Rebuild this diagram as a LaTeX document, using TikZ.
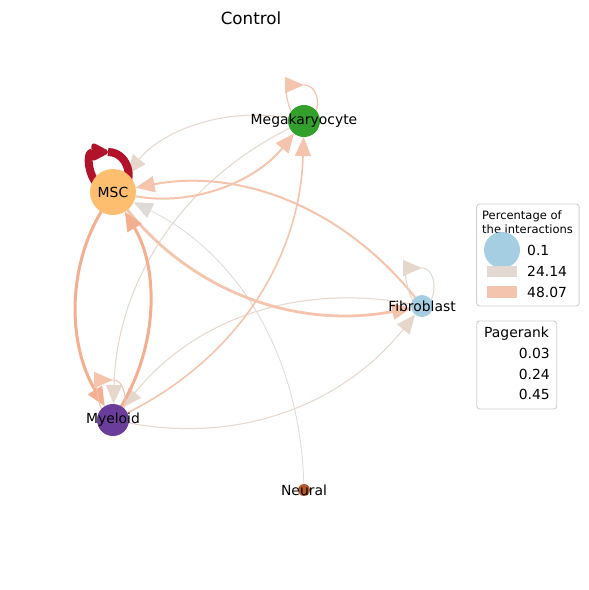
\documentclass[tikz,border=0pt]{standalone}
\usepackage{fontspec}
\setmainfont{DejaVu Sans}
\usetikzlibrary{arrows.meta,calc}
\pgfdeclarelayer{bglayer}
\pgfdeclarelayer{edgelayer}
\pgfsetlayers{bglayer,edgelayer,main}
\definecolor{cmsc}{HTML}{FDBF6F}
\definecolor{cmega}{HTML}{33A02C}
\definecolor{cfib}{HTML}{A6CEE3}
\definecolor{cmye}{HTML}{6A3D9A}
\definecolor{cneu}{HTML}{B15928}
\definecolor{edred}{HTML}{B2132B}
\definecolor{edsal}{HTML}{F4AF90}
\definecolor{edlsal}{HTML}{F5C4AD}
\definecolor{edbeige}{HTML}{E6D7CD}
\definecolor{edgrey}{HTML}{DEDAD8}
\definecolor{legbeige}{HTML}{E3D9D2}
\definecolor{legsal}{HTML}{F4C4AE}
\definecolor{legframe}{HTML}{D0D0D0}
\newcommand\arcedge[3]{%
  \coordinate (tmpm) at ($(#1)!0.5!(#2)$);
  \coordinate (tmpc) at ($(tmpm)!0.6!-90:(#2)$);
  \draw[edge,#3] (#1) .. controls ($(#1)!0.6667!(tmpc)$) and ($(#2)!0.6667!(tmpc)$) .. (#2);
}
% #1 node, #2 x offset of apex, #3 height, #4 half width, #5 style
\newcommand\selfloop[5]{%
  \coordinate (#1top) at ($(#1)+(#2,-#3)$);
  \draw[edge,#5] (#1top) .. controls ($(#1top)+(#4,0)$) and ($(#1)+(#4,0)$) .. (#1.center)
     .. controls ($(#1)+(-#4,0)$) and ($(#1top)+(-#4,0)$) .. (#1top);
}
\begin{document}
\begin{tikzpicture}[x=1pt,y=-1pt,
  nd/.style={circle,inner sep=0pt,outer sep=0pt,draw=none},
  lbl/.style={font=\fontsize{13.9}{16}\selectfont,text=black,inner sep=0pt},
  edge/.style={-{Triangle[length=19pt,width=16pt]}},
  legtxt/.style={font=\fontsize{13.9}{16}\selectfont,inner sep=0pt},
  legttl/.style={font=\fontsize{11.5}{13}\selectfont,inner sep=0pt,anchor=base west},
  legbox/.style={draw=legframe,line width=0.9pt,rounded corners=3pt,fill=white}]
\useasboundingbox (0,0) rectangle (589,590);
\begin{pgfonlayer}{bglayer}
\fill[white] (0,0) rectangle (589,590);
\end{pgfonlayer}

\node[font=\fontsize{16.7}{19}\selectfont,inner sep=0pt] (title) at (251,18) {Control};

% nodes
\node[nd,fill=cmsc,minimum size=46pt,label={[lbl]center:MSC}] (msc) at (113,192) {};
\node[nd,fill=cmega,minimum size=32pt,label={[lbl]center:Megakaryocyte}] (mega) at (304,121) {};
\node[nd,fill=cfib,minimum size=22pt,label={[lbl]center:Fibroblast}] (fib) at (422,306) {};
\node[nd,fill=cmye,minimum size=32pt,label={[lbl]center:Myeloid}] (mye) at (113,420) {};
\node[nd,fill=cneu,minimum size=12pt,label={[lbl]center:Neural}] (neu) at (304,490) {};

\begin{pgfonlayer}{edgelayer}
\arcedge{neu}{msc}{draw=edgrey,line width=0.8pt}
\arcedge{mega}{msc}{draw=edbeige,line width=1pt}
\arcedge{mega}{mye}{draw=edbeige,line width=1pt}
\arcedge{fib}{mye}{draw=edbeige,line width=1pt}
\arcedge{mye}{fib}{draw=edbeige,line width=1pt}
\arcedge{mye}{mega}{draw=edlsal,line width=1.6pt}
\arcedge{msc}{mega}{draw=edlsal,line width=2pt}
\arcedge{fib}{msc}{draw=edlsal,line width=2pt}
\arcedge{msc}{fib}{draw=edlsal,line width=2.8pt}
\arcedge{mye}{msc}{draw=edsal,line width=3pt}
\arcedge{msc}{mye}{draw=edsal,line width=3pt}
\selfloop{mega}{0}{36}{18}{draw=edlsal,line width=1.2pt}
\selfloop{fib}{0}{38}{16}{draw=edbeige,line width=1pt}
\selfloop{mye}{0}{40}{16}{draw=edlsal,line width=1pt}
\selfloop{msc}{-5}{40}{24}{draw=edred,line width=8pt,line join=round,-{Triangle[length=20pt,width=19pt,round]}}
\end{pgfonlayer}

% legend 1
\node[legbox,minimum width=102.5pt,minimum height=102pt,inner sep=0pt] (leg1) at (527.9,255) {};
\node[legttl] (leg1t1) at (482,219) {Percentage of};
\node[legttl] (leg1t2) at (482,233) {the interactions};
\node[circle,fill=cfib,minimum size=36pt,inner sep=0pt] (leg1c) at (502,250) {};
\node[fill=legbeige,minimum width=30pt,minimum height=11pt,inner sep=0pt] (leg1b) at (502,271.5) {};
\node[fill=legsal,minimum width=30pt,minimum height=12pt,inner sep=0pt] (leg1s) at (502,292) {};
\node[legtxt,anchor=base west] (leg1v1) at (527,255) {0.1};
\node[legtxt,anchor=base west] (leg1v2) at (527,276) {24.14};
\node[legtxt,anchor=base west] (leg1v3) at (527,297) {48.07};

% legend 2
\node[legbox,minimum width=80pt,minimum height=88pt,inner sep=0pt] (leg2) at (516.7,365) {};
\node[legtxt,anchor=base west] (leg2t) at (484,337) {Pagerank};
\node[legtxt,anchor=base east] (leg2v1) at (550,358) {0.03};
\node[legtxt,anchor=base east] (leg2v2) at (550,379) {0.24};
\node[legtxt,anchor=base east] (leg2v3) at (550,399) {0.45};
\end{tikzpicture}
\end{document}
